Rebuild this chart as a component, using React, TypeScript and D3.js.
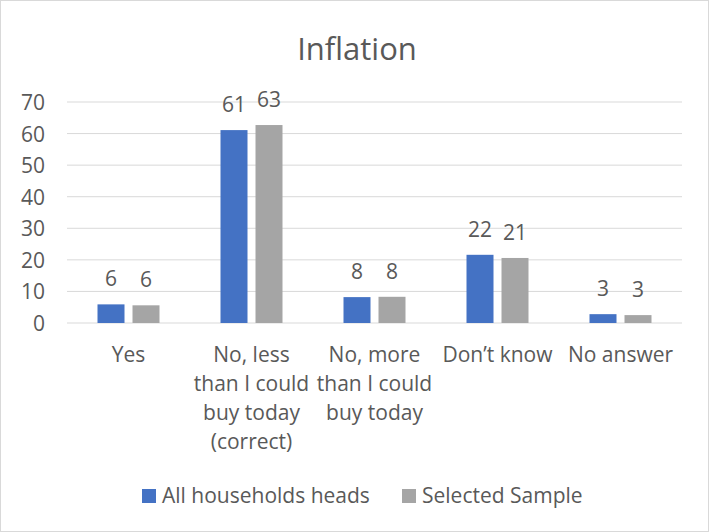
import React from "react";
import * as d3 from "d3";

const categories: string[][] = [
  ["Yes"],
  ["No, less", "than I could", "buy today", "(correct)"],
  ["No, more", "than I could", "buy today"],
  ["Don\u2019t know"],
  ["No answer"],
];
const allHouseholds = [5.9, 61.1, 8.2, 21.6, 2.8];
const selectedSample = [5.6, 62.7, 8.3, 20.6, 2.5];
const allLabels = ["6", "61", "8", "22", "3"];
const selLabels = ["6", "63", "8", "21", "3"];
const seriesNames = ["All households heads", "Selected Sample"];
const yTicks = [0, 10, 20, 30, 40, 50, 60, 70];

const W = 709, H = 532;
const font = "'Open Sans', 'Liberation Sans', sans-serif";
const colors = ["#4472C4", "#A5A5A5"];
const textCol = "#595959";

export default function App() {
  const x = d3.scaleBand<number>().domain(d3.range(categories.length)).range([67, 682]);
  const y = d3.scaleLinear().domain([0, 70]).range([323, 102]);
  const bw = 27, gap = 8;
  const series = [allHouseholds, selectedSample];
  const labels = [allLabels, selLabels];
  return (
    <svg width={W} height={H} style={{ position: "absolute", left: 0, top: 0 }}>
      <rect x={0.5} y={0.5} width={W - 1} height={H - 1} fill="#fff" stroke="#d9d9d9" />
      <text x={357} y={60} textAnchor="middle" fontFamily={font} fontSize={31} fill={textCol}>Inflation</text>
      {yTicks.map((t) => (
        <g key={t}>
          <line x1={67} x2={682} y1={y(t)} y2={y(t)} stroke="#d9d9d9" strokeWidth={1} />
          <text x={45} y={y(t) + 8} textAnchor="end" fontFamily={font} fontSize={21} fill={textCol}>{t}</text>
        </g>
      ))}
      {categories.map((c, i) => {
        const cx = x(i)! + x.bandwidth() / 2;
        return (
          <g key={i}>
            {series.map((s, j) => {
              const bx = j === 0 ? cx - gap / 2 - bw : cx + gap / 2;
              return (
                <g key={j}>
                  <rect x={bx} y={y(s[i])} width={bw} height={y(0) - y(s[i])} fill={colors[j]} />
                  <text x={bx + bw / 2} y={y(s[i]) - 18} textAnchor="middle" fontFamily={font} fontSize={21} fill={textCol}>{labels[j][i]}</text>
                </g>
              );
            })}
            {c.map((line, k) => (
              <text key={k} x={cx} y={362 + k * 29} textAnchor="middle" fontFamily={font} fontSize={21} fill={textCol}>{line}</text>
            ))}
          </g>
        );
      })}
      {seriesNames.map((n, j) => {
        const lx = j === 0 ? 142 : 402;
        return (
          <g key={n}>
            <rect x={lx} y={489} width={14} height={14} fill={colors[j]} />
            <text x={lx + 20} y={503} fontFamily={font} fontSize={21} fill={textCol}>{n}</text>
          </g>
        );
      })}
    </svg>
  );
}
